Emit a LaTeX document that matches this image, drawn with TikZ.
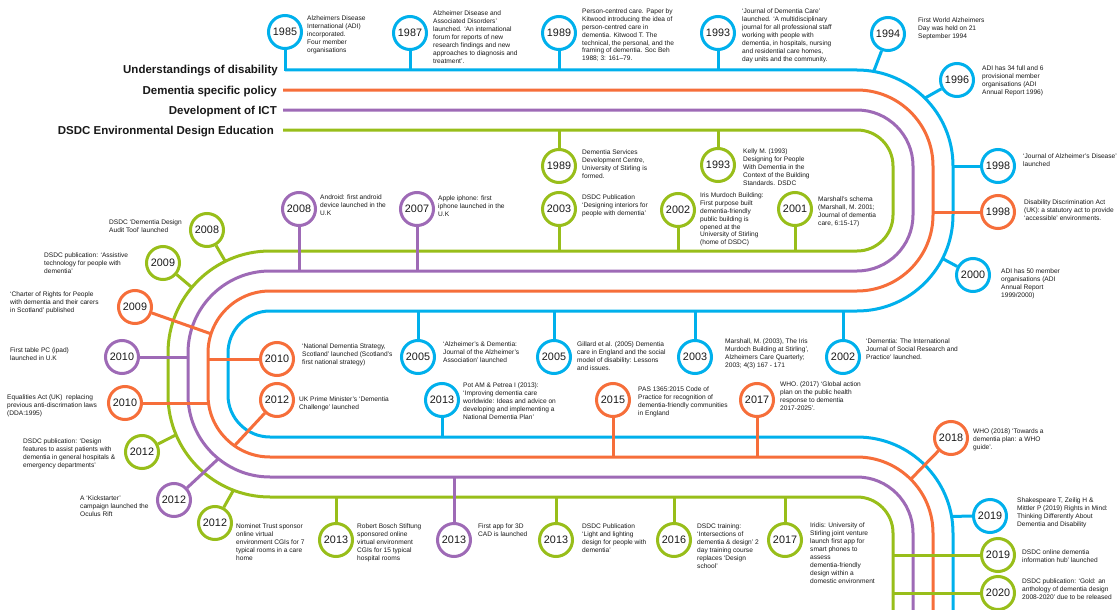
\documentclass[tikz,border=0pt]{standalone}
\usepackage{fontspec}
\setmainfont{Liberation Sans}
\usetikzlibrary{calc}
\definecolor{cblue}{RGB}{0,176,236}
\definecolor{corange}{RGB}{246,110,58}
\definecolor{cpurple}{RGB}{158,106,182}
\definecolor{cgreen}{RGB}{152,190,26}
\definecolor{ctext}{RGB}{25,25,25}
\tikzset{
  trk/.style={line width=3pt},
  yr/.style={circle, draw=#1, line width=3pt, fill=white, minimum size=33pt, inner sep=0pt, text=ctext, font=\fontsize{10.8}{11}\selectfont},
  stm/.style={draw=#1, line width=3pt},
  txt/.style={anchor=north west, align=left, inner sep=0pt, text=ctext, font=\fontsize{6.6}{7.9}\selectfont},
  lab/.style={anchor=base east, inner sep=0pt, text=ctext, font=\bfseries\fontsize{11.5}{13}\selectfont}
}
\newcommand{\tlev}[7]{%
  \node[yr=#2] (#1) at (#3) {#4};
  \node[txt] (#1t) at (#5) {#6};
  \coordinate (#1s) at (#7);
  \draw[stm=#2] (#1) -- (#1s);
}
\begin{document}
\begin{tikzpicture}[x=1pt, y=1pt, yscale=-1]
\useasboundingbox (0,0) rectangle (1119,610);
\clip (0,0) rectangle (1119,610);
\fill[white] (0,0) rectangle (1119,610);
% corner centres
\coordinate (cTR) at (857,166);
\coordinate (cMR) at (857,215);
\coordinate (cTL) at (270,353);
\coordinate (cBL) at (270,395);
\coordinate (cBR) at (857,533);
% tracks
\draw[trk, cblue] (285,70) -- (857,70) arc(-90:0:96) -- (953,215) arc(0:90:96) -- (270,311) arc(-90:-180:42) -- (228,395) arc(180:90:42) -- (857,437) arc(-90:0:96) -- (953,620);
\draw[trk, corange] (283,90) -- (857,90) arc(-90:0:76) -- (933,215) arc(0:90:76) -- (270,291) arc(-90:-180:62) -- (208,395) arc(180:90:62) -- (857,457) arc(-90:0:76) -- (933,620);
\draw[trk, cpurple] (283,110) -- (857,110) arc(-90:0:56) -- (913,215) arc(0:90:56) -- (270,271) arc(-90:-180:82) -- (188,395) arc(180:90:82) -- (857,477) arc(-90:0:56) -- (913,620);
\draw[trk, cgreen] (283,130) -- (857,130) arc(-90:0:36) -- (893,215) arc(0:90:36) -- (270,251) arc(-90:-180:102) -- (168,395) arc(180:90:102) -- (857,497) arc(-90:0:36) -- (893,620);
% labels
\node[lab] (lUD) at (278,74) {Understandings of disability};
\node[lab] (lDP) at (277,94) {Dementia specific policy};
\node[lab] (lICT) at (277,114) {Development of ICT};
\node[lab] (lEDU) at (274,134) {DSDC Environmental Design Education};
% row 1, above
\tlev{a1985}{cblue}{285,32}{1985}{307,15.5}{Alzheimers Disease\\International (ADI)\\incorporated.\\Four member\\organisations}{285,71.5}
\tlev{a1987}{cblue}{410,33}{1987}{433,11}{Alzheimer Disease and\\Associated Disorders'\\launched. `An international\\forum for reports of new\\research findings and new\\approaches to diagnosis and\\treatment'.}{410,70}
\tlev{a1989}{cblue}{559,33}{1989}{582,8.5}{Person-centred care. Paper by\\Kitwood introducing the idea of\\person-centred care in\\dementia. Kitwood T. The\\technical, the personal, and the\\framing of dementia. Soc Beh\\1988; 3: 161--79.}{559,70}
\tlev{a1993}{cblue}{718,33}{1993}{742,9}{`Journal of Dementia Care'\\launched. `A multidisciplinary\\journal for all professional staff\\working with people with\\dementia, in hospitals, nursing\\and residential care homes,\\day units and the community.}{718,70}
\tlev{a1994}{cblue}{888,34}{1994}{918,17.5}{First World Alzheimers\\Day was held on 21\\September 1994}{$(cTR)+(-80:96)$}
\tlev{a1996}{cblue}{957,80}{1996}{982,66}{ADI has 34 full and 6\\provisional member\\organisations (ADI\\Annual Report 1996)}{$(cTR)+(-45:96)$}
\tlev{a1998}{cblue}{998,166}{1998}{1023,153.5}{`Journal of Alzheimer's Disease'\\launched}{953,166}
\tlev{b1998}{corange}{998,212}{1998}{1024,200}{Disability Discrimination Act\\(UK): a statutory act to provide\\`accessible' environments.}{933,212}
\tlev{a2000}{cblue}{973,275}{2000}{1001,268.5}{ADI has 50 member\\organisations (ADI\\Annual Report\\1999/2000)}{$(cMR)+(27:96)$}
% row 1, below
\tlev{g1989}{cgreen}{559,166}{1989}{582,150}{Dementia Services\\Development Centre,\\University of Stirling is\\formed.}{559,130}
\tlev{g1993}{cgreen}{718,165}{1993}{743,148.5}{Kelly M. (1993)\\Designing for People\\With Dementia in the\\Context of the Building\\Standards. DSDC}{718,130}
% row 2, above
\tlev{g2003}{cgreen}{559,209}{2003}{582,195}{DSDC Publication\\`Designing interiors for\\people with dementia'}{559,251}
\tlev{g2002}{cgreen}{678,210}{2002}{700,192.5}{Iris Murdoch Building:\\First purpose built\\dementia-friendly\\public building is\\opened at the\\University of Stirling\\(home of DSDC)}{678,251}
\tlev{g2001}{cgreen}{795,209}{2001}{818,196.5}{Marshall's schema\\(Marshall, M. 2001;\\Journal of dementia\\care, 6:15-17)}{795,251}
\tlev{p2007}{cpurple}{417,209}{2007}{438,195.5}{Apple iphone: first\\iphone launched in the\\U.K}{417,271}
\tlev{p2008}{cpurple}{299,209}{2008}{320,195}{Android: first android\\device launched in the\\U.K}{299,271}
% left turn
\tlev{g2008}{cgreen}{207,230}{2008}{109,220}{DSDC `Dementia Design\\Audit Tool' launched}{$(cTL)+(-116:102)$}
\tlev{g2009}{cgreen}{163,263}{2009}{44,252.5}{DSDC publication: `Assistive\\technology for people with\\dementia'}{$(cTL)+(-140:102)$}
\tlev{o2009}{corange}{135,307}{2009}{10,291.5}{`Charter of Rights for People\\with dementia and their carers\\in Scotland' published}{$(cTL)+(-162:62)$}
\tlev{p2010}{cpurple}{122,357}{2010}{10,348}{First table PC (ipad)\\launched in U.K}{188,357}
\tlev{o2010}{corange}{125,403}{2010}{7,395}{Equalities Act (UK)\ \ replacing\\previous anti-discrimation laws\\(DDA:1995)}{208.5,403}
\tlev{o2010i}{corange}{277,359}{2010}{302,344}{`National Dementia Strategy,\\Scotland' launched (Scotland's\\first national strategy)}{208,359}
\tlev{o2012i}{corange}{277,400}{2012}{299,396.5}{UK Prime Minister's `Dementia\\Challenge' launched}{$(cBL)+(125:62)$}
\tlev{g2012}{cgreen}{142,452}{2012}{23,438.5}{DSDC publication: `Design\\features to assist patients with\\dementia in general hospitals \&\\emergency departments'}{$(cBL)+(157:102)$}
\tlev{p2012}{cpurple}{174,500}{2012}{80,495.5}{A `Kickstarter'\\campaign launched the\\Oculus Rift}{$(cBL)+(129:82)$}
\tlev{g2012b}{cgreen}{215,523}{2012}{236,524}{Nominet Trust sponsor\\online virtual\\environment CGIs for 7\\typical rooms in a care\\home}{$(cBL)+(111:102)$}
\tlev{g2013}{cgreen}{336,540}{2013}{357,524}{Robert Bosch Stiftung\\sponsored online\\virtual environment\\CGIs for 15 typical\\hospital rooms}{336,497}
% row 2, below
\tlev{b2005}{cblue}{418,357}{2005}{443,341.5}{`Alzheimer's \& Dementia:\\Journal of the Alzheimer's\\Association' launched}{418,311}
\tlev{b2005b}{cblue}{554,357}{2005}{577,341.5}{Gillard et al. (2005) Dementia\\care in England and the social\\model of disability: Lessons\\and issues.}{554,311}
\tlev{b2003}{cblue}{695,357}{2003}{725,339}{Marshall, M. (2003), The Iris\\Murdoch Building at Stirling',\\Alzheimers Care Quarterly;\\2003; 4(3) 167 - 171}{695,311}
\tlev{b2002}{cblue}{843,357}{2002}{866,339}{`Dementia: The International\\Journal of Social Research and\\Practice' launched.}{843,311}
% row 3, above
\tlev{b2013}{cblue}{442,400}{2013}{463,382.5}{Pot AM \& Petrea I (2013):\\`Improving dementia care\\worldwide: Ideas and advice on\\developing and implementing a\\National Dementia Plan'}{442,437}
\tlev{o2015}{corange}{613,400}{2015}{638,386.5}{PAS 1365:2015 Code of\\Practice for recognition of\\dementia-friendly communities\\in England}{613,457}
\tlev{o2017}{corange}{757,400}{2017}{780,382}{WHO. (2017) `Global action\\plan on the public health\\response to dementia\\2017-2025'.}{757,457}
\tlev{o2018}{corange}{951,438}{2018}{973,429}{WHO (2018) `Towards a\\dementia plan: a WHO\\guide'.}{$(cBR)+(-45:76)$}
% row 3, below
\tlev{p2013}{cpurple}{454,540}{2013}{478,524}{First app for 3D\\CAD is launched}{454,477}
\tlev{g2013b}{cgreen}{556,540}{2013}{582,524}{DSDC Publication\\`Light and lighting\\design for people with\\dementia'}{556,497}
\tlev{g2016}{cgreen}{674,540}{2016}{697,524}{DSDC training:\\`Intersections of\\dementia \& design' 2\\day training course\\replaces `Design\\school'}{674,497}
\tlev{g2017}{cgreen}{785,540}{2017}{810,523}{Iridis: University of\\Stirling joint venture\\launch first app for\\smart phones to\\assess\\dementia-friendly\\design within a\\domestic environment}{785,497}
\tlev{b2019}{cblue}{990,516}{2019}{1017,497.5}{Shakespeare T, Zeilig H \&\\Mittler P (2019) Rights in Mind:\\Thinking Differently About\\Dementia and Disability}{$(cBR)+(-10:96)$}
\tlev{g2019}{cgreen}{998,555}{2019}{1022,550}{DSDC online dementia\\information hub' launched}{893,555}
\tlev{g2020}{cgreen}{998,593}{2020}{1022,579}{DSDC publication: `Gold: an\\anthology of dementia design\\2008-2020' due to be released}{893,593}
\end{tikzpicture}
\end{document}
